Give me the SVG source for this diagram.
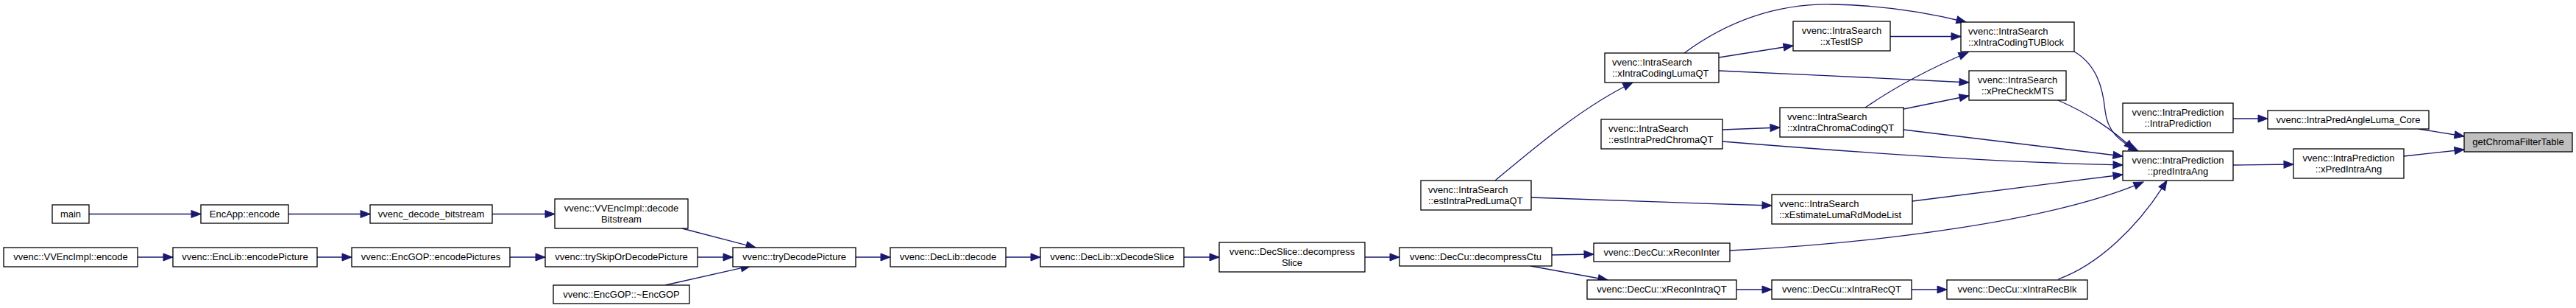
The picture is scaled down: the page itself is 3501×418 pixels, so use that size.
<svg xmlns="http://www.w3.org/2000/svg" width="3501" height="418" viewBox="0 0 3501 418">
<style>
.n rect{fill:#fff;stroke:#000;stroke-width:1.3}
.n.hl rect{fill:#bfbfbf}
.n text{font-family:"Liberation Sans",Arial,sans-serif;font-size:13px;fill:#000}
.c{text-anchor:middle}
.e path{fill:none;stroke:#191970;stroke-width:1.3;marker-end:url(#arr)}
</style>
<defs>
<marker id="arr" markerWidth="14" markerHeight="11" refX="13" refY="5" orient="auto" markerUnits="userSpaceOnUse" overflow="visible">
<path d="M0,0 L13,5 L0,10 Z" fill="#191970" stroke="#191970" stroke-width="1"/>
</marker>
</defs>
<rect width="3501" height="418" fill="#fff"/>
<g id="edges" class="e">
<path d="M121,290.5 L273,290.5"/>
<path d="M392,290.5 L503,290.5"/>
<path d="M669,290.5 L754,290.5"/>
<path d="M187,349 L235,349"/>
<path d="M431,349 L478,349"/>
<path d="M693,349 L741,349"/>
<path d="M927,310 L1027,336"/>
<path d="M948,349 L996,349"/>
<path d="M904,387 L1020,361"/>
<path d="M1163,349 L1210,349"/>
<path d="M1367,349 L1414,349"/>
<path d="M1609,349 L1657,349"/>
<path d="M1855,349 L1902,349"/>
<path d="M2109,346 L2166,345"/>
<path d="M2080,361 L2185,380"/>
<path d="M2360,393 L2408,393"/>
<path d="M2598,393 L2646,393"/>
<path d="M2797,379 C2850,360 2905,310 2945,245"/>
<path d="M2351,340 C2550,330 2790,300 2913,247"/>
<path d="M2599,273 L2885,237"/>
<path d="M2341,192 C2500,205 2700,220 2885,224"/>
<path d="M2587,176 L2885,212"/>
<path d="M2797,136 C2840,155 2870,175 2900,203"/>
<path d="M2819,70 C2850,88 2858,120 2861,150 C2864,178 2880,192 2906,205"/>
<path d="M2336,78 L2437,62"/>
<path d="M2289,72 C2360,20 2430,5 2490,6 C2560,7 2620,17 2672,30"/>
<path d="M2336,96 C2450,101 2560,106 2676,112"/>
<path d="M2569,49.5 L2665,49.5"/>
<path d="M2535,146 C2580,115 2630,90 2675,71"/>
<path d="M2587,148 L2676,130"/>
<path d="M2341,176 L2419,173"/>
<path d="M2032,245 C2080,205 2150,145 2219,112"/>
<path d="M2081,268 C2200,272 2300,276 2408,279"/>
<path d="M3035,161 L3082,161"/>
<path d="M3287,175 L3349,185"/>
<path d="M3035,224 L3117,223"/>
<path d="M3267,212 L3349,203"/>
</g>
<g id="main" class="n"><rect x="71" y="278" width="50" height="25"/><text class="c" x="96" y="294.5">main</text></g>
<g id="encapp_encode" class="n"><rect x="273" y="278" width="119" height="25"/><text class="c" x="332.5" y="294.5">EncApp::encode</text></g>
<g id="vvenc_decode_bitstream" class="n"><rect x="503" y="278" width="166" height="25"/><text class="c" x="586" y="294.5">vvenc_decode_bitstream</text></g>
<g id="vvencimpl_decodebitstream" class="n"><rect x="754" y="270" width="181" height="40"/><text class="c" x="844.5" y="286.5">vvenc::VVEncImpl::decode</text><text class="c" x="844.5" y="301.5">Bitstream</text></g>
<g id="vvencimpl_encode" class="n"><rect x="5" y="336" width="182" height="26"/><text class="c" x="96" y="353">vvenc::VVEncImpl::encode</text></g>
<g id="enclib_encodepicture" class="n"><rect x="235" y="336" width="196" height="26"/><text class="c" x="333" y="353">vvenc::EncLib::encodePicture</text></g>
<g id="encgop_encodepictures" class="n"><rect x="478" y="336" width="215" height="26"/><text class="c" x="585.5" y="353">vvenc::EncGOP::encodePictures</text></g>
<g id="tryskipordecodepicture" class="n"><rect x="741" y="336" width="207" height="26"/><text class="c" x="844.5" y="353">vvenc::trySkipOrDecodePicture</text></g>
<g id="encgop_dtor" class="n"><rect x="752" y="387" width="185" height="25"/><text class="c" x="844.5" y="403.5">vvenc::EncGOP::~EncGOP</text></g>
<g id="trydecodepicture" class="n"><rect x="996" y="336" width="167" height="26"/><text class="c" x="1079.5" y="353">vvenc::tryDecodePicture</text></g>
<g id="declib_decode" class="n"><rect x="1210" y="336" width="157" height="26"/><text class="c" x="1288.5" y="353">vvenc::DecLib::decode</text></g>
<g id="declib_xdecodeslice" class="n"><rect x="1414" y="336" width="195" height="26"/><text class="c" x="1511.5" y="353">vvenc::DecLib::xDecodeSlice</text></g>
<g id="decslice_decompressslice" class="n"><rect x="1657" y="329" width="198" height="40"/><text class="c" x="1756" y="345.5">vvenc::DecSlice::decompress</text><text class="c" x="1756" y="360.5">Slice</text></g>
<g id="deccu_decompressctu" class="n"><rect x="1902" y="336" width="207" height="25"/><text class="c" x="2005.5" y="352.5">vvenc::DecCu::decompressCtu</text></g>
<g id="deccu_xreconinter" class="n"><rect x="2166" y="330" width="185" height="25"/><text class="c" x="2258.5" y="346.5">vvenc::DecCu::xReconInter</text></g>
<g id="deccu_xreconintraqt" class="n"><rect x="2157" y="380" width="203" height="26"/><text class="c" x="2258.5" y="397">vvenc::DecCu::xReconIntraQT</text></g>
<g id="deccu_xintrarecqt" class="n"><rect x="2408" y="380" width="190" height="26"/><text class="c" x="2503" y="397">vvenc::DecCu::xIntraRecQT</text></g>
<g id="deccu_xintrarecblk" class="n"><rect x="2646" y="380" width="191" height="26"/><text class="c" x="2741.5" y="397">vvenc::DecCu::xIntraRecBlk</text></g>
<g id="estintrapredlumaqt" class="n"><rect x="1931" y="245" width="150" height="40"/><text x="1941" y="261.5">vvenc::IntraSearch</text><text x="1941" y="276.5">::estIntraPredLumaQT</text></g>
<g id="estintrapredchromaqt" class="n"><rect x="2176" y="162" width="165" height="40"/><text x="2186" y="178.5">vvenc::IntraSearch</text><text x="2186" y="193.5">::estIntraPredChromaQT</text></g>
<g id="xintracodinglumaqt" class="n"><rect x="2181" y="72" width="155" height="40"/><text x="2191" y="88.5">vvenc::IntraSearch</text><text x="2191" y="103.5">::xIntraCodingLumaQT</text></g>
<g id="xtestisp" class="n"><rect x="2437" y="29" width="132" height="40"/><text class="c" x="2503" y="45.5">vvenc::IntraSearch</text><text class="c" x="2503" y="60.5">::xTestISP</text></g>
<g id="xintrachromacodingqt" class="n"><rect x="2419" y="146" width="168" height="40"/><text x="2429" y="162.5">vvenc::IntraSearch</text><text x="2429" y="177.5">::xIntraChromaCodingQT</text></g>
<g id="xestimatelumardmodelist" class="n"><rect x="2408" y="264" width="191" height="40"/><text x="2418" y="280.5">vvenc::IntraSearch</text><text x="2418" y="295.5">::xEstimateLumaRdModeList</text></g>
<g id="xintracodingtublock" class="n"><rect x="2665" y="30" width="154" height="40"/><text x="2675" y="46.5">vvenc::IntraSearch</text><text x="2675" y="61.5">::xIntraCodingTUBlock</text></g>
<g id="xprecheckmts" class="n"><rect x="2676" y="96" width="132" height="40"/><text class="c" x="2742" y="112.5">vvenc::IntraSearch</text><text class="c" x="2742" y="127.5">::xPreCheckMTS</text></g>
<g id="intraprediction_ctor" class="n"><rect x="2885" y="140" width="150" height="40"/><text class="c" x="2960" y="156.5">vvenc::IntraPrediction</text><text class="c" x="2960" y="171.5">::IntraPrediction</text></g>
<g id="predintraang" class="n"><rect x="2885" y="205" width="150" height="40"/><text class="c" x="2960" y="221.5">vvenc::IntraPrediction</text><text class="c" x="2960" y="236.5">::predIntraAng</text></g>
<g id="intrapredangleluma_core" class="n"><rect x="3082" y="150" width="219" height="25"/><text class="c" x="3191.5" y="166.5">vvenc::IntraPredAngleLuma_Core</text></g>
<g id="xpredintraang" class="n"><rect x="3117" y="202" width="150" height="40"/><text class="c" x="3192" y="218.5">vvenc::IntraPrediction</text><text class="c" x="3192" y="233.5">::xPredIntraAng</text></g>
<g id="getchromafiltertable" class="n hl"><rect x="3349" y="180" width="147" height="26"/><text class="c" x="3422.5" y="197">getChromaFilterTable</text></g>
</svg>
